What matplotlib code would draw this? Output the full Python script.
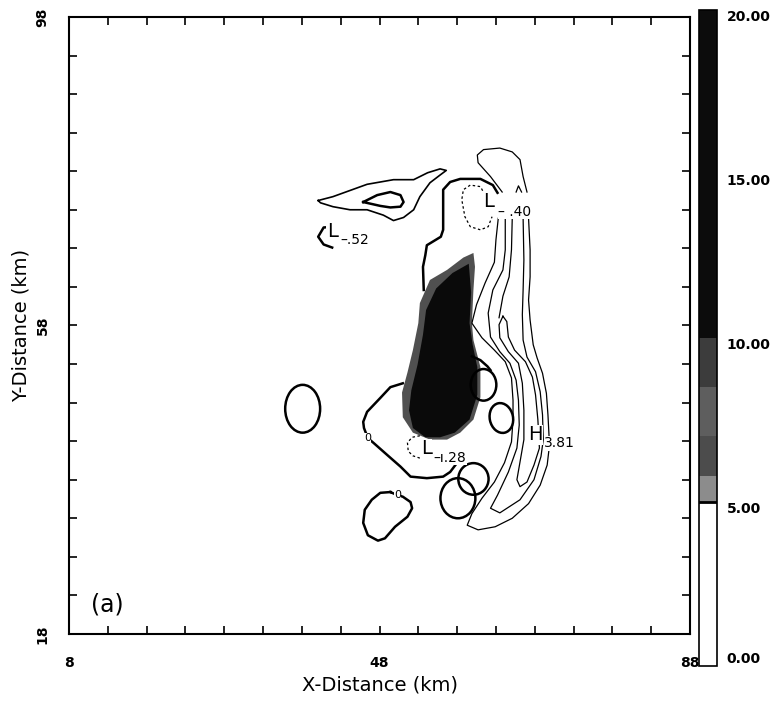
import matplotlib
matplotlib.use('Agg')
import matplotlib.pyplot as plt
import numpy as np
from matplotlib.patches import Ellipse
from matplotlib.colors import ListedColormap, BoundaryNorm
from matplotlib.cm import ScalarMappable

# shaded field (>5) outline and its dark core, km
shade_outer = [(60.1, 67.4), (60.3, 65.6), (60.1, 62.6), (59.9, 58.3), (60.1, 56.1), (61.0, 52.6),
               (61.0, 50.9), (61.0, 48.7), (60.1, 45.8), (58.4, 44.1), (56.7, 43.2), (54.5, 43.2),
               (52.3, 44.1), (51.0, 46.1), (50.9, 49.3), (51.6, 51.9), (52.3, 54.8), (53.0, 58.3),
               (53.2, 60.9), (54.5, 63.9), (56.7, 65.2), (58.8, 66.8)]
shade_core = [(59.5, 66.0), (59.8, 62.3), (59.6, 58.3), (60.0, 55.5), (60.6, 52.6), (60.6, 49.0),
              (59.6, 45.8), (57.7, 44.1), (55.8, 43.5), (53.9, 43.5), (52.3, 44.7), (51.8, 47.0),
              (52.1, 49.6), (52.9, 52.9), (53.6, 56.8), (54.0, 60.0), (55.3, 62.8), (57.4, 64.8)]

# zero contour pieces (thick)
zero_upper = [(53.7, 62.6), (53.6, 65.6), (53.9, 67.1), (54.1, 68.4), (55.9, 69.5), (56.2, 70.4),
              (56.2, 75.6), (57.1, 76.6), (58.4, 77.0), (61.0, 77.0), (62.6, 76.2), (63.2, 75.2)]
zero_lower = [(51.0, 50.5), (49.4, 50.0), (48.1, 48.6), (46.4, 46.8), (45.9, 45.5), (46.0, 44.7),
              (46.5, 43.4), (47.2, 42.8), (49.0, 41.2), (50.7, 39.7), (52.0, 38.4), (54.1, 38.2),
              (56.2, 38.4), (57.1, 39.0), (58.0, 40.2)]
zero_arc = [(59.9, 54.0), (61.0, 53.5), (61.9, 52.7), (62.3, 52.2)]
zero_south = [(49.4, 36.4), (48.1, 36.3), (47.0, 35.4), (46.1, 34.1), (45.9, 32.4), (46.5, 30.8),
              (47.8, 30.1), (48.7, 30.4), (50.0, 31.9), (51.6, 33.2), (52.2, 34.3), (52.0, 35.1),
              (51.0, 35.8), (50.3, 36.0), (49.4, 36.4)]

# closed cells: centre x, centre y, width, height (km)
cell_x = [61.4, 63.7, 60.1, 58.1, 38.1]
cell_y = [50.3, 46.0, 38.1, 35.6, 47.2]
cell_w = [3.3, 3.0, 3.9, 4.5, 4.5]
cell_h = [4.1, 3.9, 4.1, 5.2, 6.2]
cell_tilt = [0, 12, 0, 0, 0]

# north-west tongue
tongue_outer = [(40.1, 74.2), (42.0, 74.7), (46.4, 76.3), (49.8, 76.9), (52.4, 76.9), (54.2, 77.8),
                (55.8, 78.3), (56.6, 78.1), (55.8, 77.5), (54.5, 76.5), (53.2, 74.7), (52.4, 73.0),
                (51.1, 72.0), (49.8, 71.6), (48.5, 72.3), (46.4, 73.0), (44.2, 73.0), (42.0, 73.4),
                (40.4, 73.9), (40.1, 74.2)]
tongue_inner = [(45.9, 74.0), (47.7, 74.9), (49.4, 75.3), (50.7, 74.9), (51.1, 74.0), (50.7, 73.4),
                (49.4, 73.3), (48.1, 73.5), (45.9, 74.0)]
low52_arc = [(41.9, 70.8), (40.8, 70.7), (40.1, 69.5), (40.8, 68.5), (41.9, 68.1)]

# eastern band of positive contours (thin)
hook_top = [(63.8, 75.3), (62.3, 77.3), (60.7, 79.1), (60.6, 80.1), (61.4, 80.8), (63.5, 81.0),
            (65.1, 80.5), (66.1, 79.5), (66.5, 77.3), (67.0, 75.3)]
hook_tip = [(65.6, 75.3), (65.9, 76.1), (66.3, 75.3)]
band_a = [(63.3, 71.9), (63.0, 69.1), (62.8, 66.2), (61.6, 63.5), (60.5, 60.7), (59.9, 58.3),
          (61.2, 56.4), (62.8, 54.8), (64.2, 53.3), (65.0, 51.2), (65.2, 48.3), (65.2, 45.8),
          (65.0, 42.9), (64.1, 40.2), (62.8, 37.7), (61.2, 35.6), (59.9, 33.6), (59.3, 32.1),
          (60.7, 31.5), (62.9, 31.9), (65.1, 33.0), (67.2, 34.9), (68.7, 37.3), (69.6, 39.9),
          (69.9, 42.5), (69.7, 46.4), (69.5, 49.2), (69.0, 51.8), (68.3, 53.8), (67.8, 55.5),
          (67.4, 58.7), (67.2, 61.3), (67.4, 64.3), (67.4, 67.8), (67.2, 71.9)]
band_b = [(64.2, 71.9), (64.2, 67.8), (63.9, 65.2), (62.6, 62.6), (62.0, 59.6), (62.3, 56.5),
          (63.5, 54.6), (64.8, 53.1), (65.6, 50.9), (65.9, 48.3), (66.0, 45.1), (65.7, 42.1),
          (64.6, 39.0), (63.2, 36.0), (62.3, 34.3), (63.5, 33.7), (66.1, 35.4), (67.9, 38.0),
          (68.8, 41.0), (69.1, 43.2), (69.0, 46.4), (68.7, 49.4), (68.1, 52.0), (67.0, 53.9),
          (66.5, 56.1), (66.4, 59.4), (66.5, 62.6), (66.6, 66.5), (66.5, 71.9)]
band_c = [(63.9, 59.2), (63.4, 58.1), (63.5, 56.4), (64.6, 54.6), (65.9, 53.1), (66.4, 50.5),
          (66.6, 47.0), (66.6, 43.2), (66.1, 40.3), (65.7, 38.0), (66.1, 37.1), (67.0, 37.7),
          (67.9, 39.9), (68.6, 42.1), (68.4, 45.8), (68.1, 49.0), (67.7, 51.3), (66.8, 53.3),
          (65.4, 54.8), (64.6, 56.5), (64.4, 58.5), (63.9, 59.2)]
band_d = [(65.1, 71.9), (65.0, 67.8), (64.7, 64.3), (63.9, 61.8), (63.4, 59.0)]

# negative contours (dashed)
low40_loop = [(61.6, 74.9), (61.0, 76.0), (59.7, 76.2), (58.8, 75.6), (58.6, 74.3), (59.0, 72.1),
              (59.7, 70.8), (61.0, 70.4), (62.0, 70.8), (62.5, 72.1)]
low128_arc = [(53.2, 43.7), (52.2, 43.5), (51.6, 42.8), (51.7, 41.7), (52.3, 41.1), (53.2, 40.8)]

# extrema: symbol, x, y, value text, value x, value y
extrema = [('L', 41.2, 68.9, '\u2013.52', 42.9, 68.6),
           ('L', 61.4, 72.8, '\u2013 .40', 63.3, 72.2),
           ('L', 53.3, 40.8, '\u2013\u0131.28', 55.0, 40.3),
           ('H', 67.2, 42.6, '3.81', 69.2, 42.2)]
zero_marks = [(46.5, 43.4), (50.3, 36.0)]

bar_levels = [0, 5, 5.8, 7, 8.5, 10, 20]
bar_shades = ['#ffffff', '#8c8c8c', '#4c4c4c', '#5e5e5e', '#3c3c3c', '#0c0c0c']
bar_ticks = [0, 5, 10, 15, 20]

fig = plt.figure(figsize=(7.78, 7.03), dpi=100)
ax = fig.add_axes([0.0887, 0.0982, 0.7982, 0.8777])
ax.set_xlim(8, 88)
ax.set_ylim(18, 98)


def line(path, **kw):
    xs, ys = zip(*path)
    ax.plot(xs, ys, color='k', solid_joinstyle='round', **kw)


ax.fill(*zip(*shade_outer), color='#505050', lw=0, zorder=3)
ax.fill(*zip(*shade_core), color='#0a0a0a', lw=0, zorder=3)

for p in [zero_upper, zero_lower, zero_arc, zero_south, tongue_inner, low52_arc]:
    line(p, lw=1.8, zorder=4)
line(tongue_outer, lw=1.2, zorder=4)
for p in [hook_top, hook_tip, band_a, band_b, band_c, band_d]:
    line(p, lw=0.9, zorder=4)
for p in [low40_loop, low128_arc]:
    line(p, lw=0.9, ls=(0, (2, 2)), zorder=4)

for cx, cy, w, h, a in zip(cell_x, cell_y, cell_w, cell_h, cell_tilt):
    ax.add_patch(Ellipse((cx, cy), w, h, angle=a, fill=False, ec='k', lw=1.8, zorder=4))

for sym, sx, sy, val, vx, vy in extrema:
    ax.text(sx, sy, sym, fontsize=14, ha='left', va='bottom', zorder=5,
            bbox=dict(fc='white', ec='none', pad=0.3))
    ax.text(vx, vy, val, fontsize=10, ha='left', va='baseline', zorder=5,
            bbox=dict(fc='white', ec='none', pad=0.3))
for zx, zy in zero_marks:
    ax.text(zx, zy, '0', fontsize=8, ha='center', va='center', zorder=5,
            bbox=dict(fc='white', ec='none', pad=0.1))

ax.text(12.9, 21.8, '(a)', fontsize=17, ha='center', va='center')

ax.set_xticks([8, 48, 88])
ax.set_yticks([18, 58, 98])
ax.set_xticks(np.arange(13, 88, 5), minor=True)
ax.set_yticks(np.arange(23, 98, 5), minor=True)
ax.tick_params(which='both', direction='in', length=6, width=1.2, top=True, right=True)
ax.tick_params(axis='x', pad=16, labelsize=10)
ax.tick_params(axis='y', pad=14, labelsize=10, labelrotation=90)
for t in ax.get_xticklabels() + ax.get_yticklabels():
    t.set_fontweight('bold')
for t in ax.get_yticklabels():
    t.set_va('center')
for s in ax.spines.values():
    s.set_linewidth(1.5)

ax.set_xlabel('X-Distance (km)', fontsize=14)
ax.set_ylabel('Y-Distance (km)', fontsize=14)
ax.xaxis.set_label_coords(0.5, -0.068)
ax.yaxis.set_label_coords(-0.062, 0.5)

cax = fig.add_axes([0.8985, 0.0526, 0.023, 0.9331])
cmap = ListedColormap(bar_shades)
norm = BoundaryNorm(bar_levels, cmap.N)
cb = fig.colorbar(ScalarMappable(norm=norm, cmap=cmap), cax=cax, ticks=bar_ticks,
                  spacing='proportional')
cb.ax.minorticks_off()
cb.ax.set_yticklabels(['%.2f' % v for v in bar_ticks])
cb.ax.tick_params(which='both', length=0, labelsize=10, pad=7)
for t in cb.ax.get_yticklabels():
    t.set_fontweight('bold')
    t.set_va('top')
cb.ax.get_yticklabels()[0].set_va('bottom')
cb.ax.axhline(5, color='k', lw=2)
cb.outline.set_linewidth(1.2)

fig.savefig('out.png', dpi=100)
